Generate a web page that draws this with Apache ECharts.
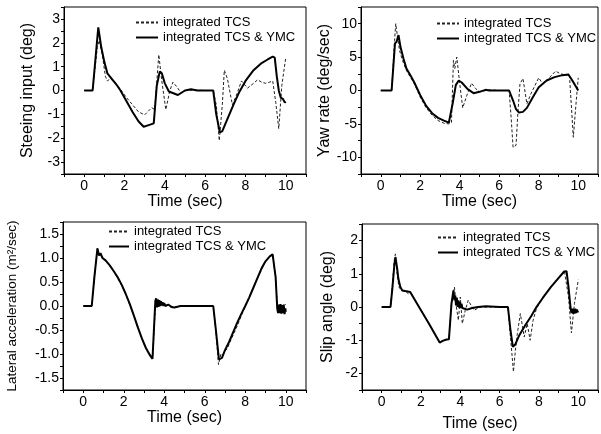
<!DOCTYPE html>
<html>
<head>
<meta charset="utf-8">
<script src="https://cdn.jsdelivr.net/npm/echarts@6/dist/echarts.min.js"></script>
<style>html,body{margin:0;padding:0;background:#fff}#c{width:601px;height:434px}</style>
</head>
<body>
<div id="c"></div>
<script>
// ---------- Data ----------
var seriesNames = ['integrated TCS', 'integrated TCS & YMC'];
var xTickLabels = ['0', '2', '4', '6', '8', '10'];

// Panel 1: Steering input (deg)
var steerYmcT = [0, 0.42, 0.7, 0.85, 1.0, 1.15, 1.4, 1.6, 1.8, 2.1, 2.4, 2.7, 2.95, 3.2, 3.45, 3.6, 3.75, 3.85, 4.0, 4.2, 4.65, 5.0, 5.3, 5.6, 6.0, 6.4, 6.55, 6.73, 6.85, 7.1, 7.4, 7.7, 8.0, 8.4, 8.8, 9.1, 9.35, 9.45, 9.55, 9.65, 9.75, 9.85, 9.95, 10.0];
var steerYmcV = [0, 0, 2.65, 1.8, 1.2, 0.72, 0.46, 0.25, 0.0, -0.45, -0.9, -1.3, -1.52, -1.45, -1.38, 0.2, 0.8, 0.72, 0.3, -0.04, -0.19, 0.0, 0.05, 0.0, 0, 0, -1.0, -1.76, -1.7, -1.2, -0.6, -0.05, 0.4, 0.85, 1.15, 1.3, 1.42, 1.38, 0.6, 0.0, -0.3, -0.35, -0.5, -0.47];
var steerTcsT = [0, 0.42, 0.65, 0.75, 0.9, 1.05, 1.15, 1.3, 1.5, 1.8, 2.1, 2.4, 2.7, 3.0, 3.2, 3.35, 3.5, 3.7, 3.85, 4.05, 4.25, 4.4, 4.6, 4.8, 5.0, 5.5, 6.0, 6.4, 6.55, 6.7, 6.85, 6.95, 7.1, 7.35, 7.55, 7.8, 8.1, 8.4, 8.6, 8.8, 9.0, 9.2, 9.35, 9.5, 9.65, 9.8, 10.0];
var steerTcsV = [0, 0, 1.8, 2.1, 1.5, 0.6, 0.4, 0.5, 0.35, 0.05, -0.3, -0.6, -0.9, -1.02, -0.85, -0.72, -0.8, 1.5, 0.4, -0.8, 0.0, 0.35, 0.15, -0.1, 0.0, 0.02, 0, 0, -0.6, -2.1, -0.6, 0.85, 0.5, -0.6, -0.2, 0.4, 0.1, 0.3, 0.45, 0.35, 0.3, 0.35, 0.4, -0.5, -1.6, 0.2, 1.4];

// Panel 2: Yaw rate (deg/sec)
var yawYmcT = [0, 0.55, 0.72, 0.8, 0.9, 1.0, 1.15, 1.3, 1.5, 1.7, 2.0, 2.3, 2.6, 2.9, 3.2, 3.45, 3.55, 3.65, 3.8, 3.95, 4.1, 4.4, 4.7, 5.0, 5.3, 5.5, 6.0, 6.5, 6.7, 6.85, 7.0, 7.2, 7.4, 7.7, 8.0, 8.4, 8.8, 9.2, 9.5, 9.7, 10.0];
var yawYmcV = [0, 0, 7.0, 7.3, 8.3, 6.5, 4.8, 3.3, 2.3, 1.2, -0.7, -2.3, -3.4, -4.1, -4.5, -4.8, -4.7, -1.8, 0.8, 1.5, 1.2, 0.2, -0.4, -0.2, 0.1, 0, 0, 0, -1.5, -2.8, -3.3, -3.2, -2.6, -1.0, 0.5, 1.5, 2.0, 2.3, 2.4, 1.5, 0.0];
var yawTcsT = [0, 0.55, 0.7, 0.76, 0.85, 0.95, 1.1, 1.3, 1.5, 1.7, 2.0, 2.3, 2.6, 2.9, 3.2, 3.45, 3.58, 3.68, 3.75, 3.85, 4.0, 4.15, 4.35, 4.6, 4.8, 5.0, 5.5, 6.0, 6.5, 6.6, 6.7, 6.85, 6.95, 7.05, 7.2, 7.4, 7.6, 8.0, 8.2, 8.5, 8.85, 9.1, 9.4, 9.55, 9.75, 9.9, 10.0];
var yawTcsV = [0, 0, 7.5, 10.0, 8.0, 6.0, 4.5, 3.0, 2.0, 1.0, -1.0, -2.6, -3.7, -4.5, -4.9, -5.0, -4.8, 4.5, 3.3, 5.0, 1.0, -2.6, -0.8, 1.1, 0.3, -0.2, 0.1, 0, 0, -4.0, -8.5, -8.2, -3.0, 1.0, 1.8, -2.0, -0.5, 1.9, 1.0, 1.8, 2.9, 2.5, 2.3, 2.5, -7.0, -1.5, 1.9];

// Panel 3: Lateral acceleration (m²/sec)
var latYmcT = [0, 0.42, 0.55, 0.7, 0.78, 0.85, 0.95, 1.1, 1.3, 1.5, 1.7, 1.9, 2.1, 2.3, 2.5, 2.7, 2.9, 3.1, 3.3, 3.42, 3.5, 3.56, 3.6, 3.64, 3.68, 3.72, 3.76, 3.8, 3.84, 3.88, 3.92, 3.96, 4.0, 4.05, 4.1, 4.2, 4.35, 4.5, 4.8, 5.5, 6.0, 6.42, 6.55, 6.7, 6.85, 7.0, 7.2, 7.4, 7.6, 7.8, 8.0, 8.2, 8.4, 8.6, 8.8, 9.0, 9.2, 9.35, 9.42, 9.5, 9.58, 9.62, 9.66, 9.7, 9.74, 9.78, 9.82, 9.86, 9.9, 9.94, 9.98, 10.0];
var latYmcV = [0, 0, 0.6, 1.2, 1.05, 1.1, 1.0, 0.95, 0.85, 0.73, 0.6, 0.44, 0.25, 0.04, -0.2, -0.45, -0.68, -0.88, -1.03, -1.1, -1.08, 0.11, 0.16, -0.03, 0.14, -0.02, 0.12, 0.0, 0.1, 0.01, 0.08, 0.0, 0.06, 0.0, 0.04, 0.03, -0.02, -0.03, 0.0, 0.0, 0, 0, -0.5, -1.11, -1.08, -0.92, -0.75, -0.55, -0.35, -0.17, 0.0, 0.18, 0.38, 0.58, 0.78, 0.93, 1.03, 1.08, 1.06, 0.6, -0.05, -0.15, 0.03, -0.15, 0.04, -0.16, 0.02, -0.15, 0.03, -0.17, -0.05, -0.12];
var latTcsT = [0, 0.42, 0.55, 0.7, 0.8, 0.9, 1.1, 1.5, 2.0, 2.5, 3.0, 3.42, 3.5, 3.58, 3.7, 4.0, 4.5, 5.0, 6.0, 6.42, 6.55, 6.68, 6.8, 6.9, 7.0, 7.1, 7.3, 7.6, 8.0, 8.5, 9.0, 9.35, 9.5, 9.6, 9.8, 10.0];
var latTcsV = [0, 0, 0.6, 1.2, 1.05, 1.05, 0.95, 0.73, 0.35, -0.2, -0.8, -1.1, -1.08, 0.1, 0.05, 0.03, -0.02, 0, 0, 0, -0.55, -1.22, -1.0, -1.02, -0.93, -0.9, -0.7, -0.42, 0.0, 0.48, 0.93, 1.08, 0.6, -0.1, -0.05, 0.04];

// Panel 4: Slip angle (deg)
var slipYmcT = [0, 0.45, 0.55, 0.65, 0.7, 0.78, 0.85, 0.95, 1.05, 1.2, 1.45, 1.9, 2.4, 2.95, 3.1, 3.3, 3.42, 3.55, 3.65, 3.7, 3.74, 3.78, 3.82, 3.86, 3.9, 3.94, 3.98, 4.02, 4.06, 4.1, 4.2, 4.35, 4.6, 4.9, 5.3, 6.0, 6.42, 6.55, 6.67, 6.8, 7.0, 7.3, 7.6, 7.87, 8.2, 8.6, 9.0, 9.28, 9.4, 9.5, 9.6, 9.65, 9.69, 9.73, 9.77, 9.81, 9.85, 9.89, 9.93, 9.97, 10.0];
var slipYmcV = [0, 0, 0.6, 1.3, 1.5, 1.2, 0.85, 0.6, 0.5, 0.48, 0.45, 0.0, -0.5, -1.07, -1.02, -0.98, -0.97, 0.1, 0.5, 0.2, 0.35, 0.05, 0.28, 0.0, 0.2, -0.02, 0.15, -0.03, 0.1, -0.03, -0.05, -0.08, -0.03, 0.0, 0.02, 0, 0, -0.7, -1.2, -1.12, -0.85, -0.55, -0.28, 0.0, 0.28, 0.6, 0.88, 1.07, 1.08, 0.6, 0.0, -0.18, -0.05, -0.2, -0.06, -0.2, -0.05, -0.18, -0.08, -0.15, -0.12];
var slipTcsT = [0, 0.45, 0.55, 0.65, 0.7, 0.78, 0.88, 1.0, 1.1, 1.2, 1.35, 1.5, 1.9, 2.4, 2.95, 3.1, 3.3, 3.42, 3.55, 3.7, 3.8, 3.9, 4.0, 4.1, 4.25, 4.4, 4.55, 4.7, 5.0, 6.0, 6.42, 6.55, 6.7, 6.8, 6.9, 7.05, 7.25, 7.4, 7.55, 7.7, 7.87, 8.2, 8.6, 9.0, 9.3, 9.4, 9.5, 9.65, 9.8, 10.0];
var slipTcsV = [0, 0, 0.7, 1.45, 1.6, 1.0, 0.6, 0.5, 0.45, 0.48, 0.4, 0.42, 0.0, -0.5, -1.07, -1.02, -0.98, -0.97, 0.1, 0.6, 0.0, -0.4, 0.3, -0.5, -0.1, 0.2, 0.05, -0.1, 0, 0, 0, -0.9, -1.95, -1.3, -0.8, -0.2, -0.9, -0.5, -1.0, -0.4, -0.05, 0.28, 0.6, 0.88, 1.06, 1.05, 0.3, -0.78, 0.1, 0.82];

// ---------- Helpers ----------
function zip(t, v) { return t.map(function (x, i) { return [x, v[i]]; }); }
function isMult(v, s) { var r = v / s; return Math.abs(r - Math.round(r)) < 1e-6; }
var FONT = 'Liberation Sans, Arial, sans-serif';

var grids = [
  { left: 64, top: 7, width: 242, height: 167 },
  { left: 361, top: 7, width: 242, height: 167 },
  { left: 63, top: 222, width: 243, height: 168 },
  { left: 362, top: 224, width: 242, height: 166 }
];
grids.forEach(function (g) { g.show = true; g.borderColor = '#000'; g.borderWidth = 1; g.backgroundColor = 'transparent'; });

var axisLineStyle = { show: true, onZero: false, lineStyle: { color: '#000', width: 1 } };

function xAxis(i, gap) {
  return {
    type: 'value', gridIndex: i, min: -1, max: 11, interval: 1,
    name: 'Time (sec)', nameLocation: 'middle', nameGap: gap,
    nameTextStyle: { fontSize: 16, color: '#000', fontFamily: FONT },
    axisLine: axisLineStyle,
    axisTick: { show: true, inside: false, length: 3, lineStyle: { color: '#000' } },
    splitLine: { show: false },
    axisLabel: {
      fontSize: 14, color: '#000', fontFamily: FONT, margin: 5,
      formatter: function (v) { return (v >= 0 && v <= 10 && isMult(v, 2)) ? String(v) : ''; }
    }
  };
}
function yAxis(i, name, min, max, step, major, dec, gap, nameSize) {
  return {
    type: 'value', gridIndex: i, min: min, max: max, interval: step,
    name: name, nameLocation: 'middle', nameGap: gap, nameRotate: 90,
    nameTextStyle: { fontSize: nameSize, color: '#000', fontFamily: FONT },
    axisLine: axisLineStyle,
    axisTick: { show: true, inside: false, length: 3, lineStyle: { color: '#000' } },
    splitLine: { show: false },
    axisLabel: {
      fontSize: 14, color: '#000', fontFamily: FONT, margin: 4,
      formatter: function (v) {
        if (!isMult(v, major) || v <= min + 1e-9 || v >= max - 1e-9) return '';
        return dec ? v.toFixed(dec) : String(Math.round(v));
      }
    }
  };
}

function tcs(i, t, v) {
  return { name: seriesNames[0], type: 'line', xAxisIndex: i, yAxisIndex: i, data: zip(t, v),
    symbol: 'none', showSymbol: false, lineStyle: { color: '#222', width: 1, type: [3, 2] }, itemStyle: { color: '#222' }, z: 2 };
}
function ymc(i, t, v) {
  return { name: seriesNames[1], type: 'line', xAxisIndex: i, yAxisIndex: i, data: zip(t, v),
    symbol: 'none', showSymbol: false, lineStyle: { color: '#000', width: 2 }, itemStyle: { color: '#000' }, z: 3 };
}
function legend(left, top, w) {
  return { left: left, top: top, orient: 'vertical', itemWidth: w, itemHeight: 10, itemGap: 2, padding: 0,
    data: seriesNames, selectedMode: false,
    itemStyle: { color: 'rgba(0,0,0,0)', borderColor: 'rgba(0,0,0,0)', borderWidth: 0, opacity: 0 },
    textStyle: { fontSize: 13, color: '#000', fontFamily: FONT } };
}

var option = {
  animation: false,
  backgroundColor: '#fff',
  grid: grids,
  legend: [legend(135, 16, 22), legend(436, 17, 22), legend(108, 225, 20), legend(437, 231, 20)],
  xAxis: [xAxis(0, 18), xAxis(1, 15), xAxis(2, 19), xAxis(3, 26)],
  yAxis: [
    yAxis(0, 'Steeing input (deg)', -3.5, 3.5, 0.5, 1, 0, 28, 16),
    yAxis(1, 'Yaw rate (deg/sec)', -12.5, 12.5, 2.5, 5, 0, 26, 16),
    yAxis(2, 'Lateral acceleration (m\u00B2/sec)', -1.75, 1.75, 0.25, 0.5, 1, 44, 13.5),
    yAxis(3, 'Slip angle (deg)', -2.5, 2.5, 0.5, 1, 0, 26, 16)
  ],
  series: [
    tcs(0, steerTcsT, steerTcsV), ymc(0, steerYmcT, steerYmcV),
    tcs(1, yawTcsT, yawTcsV), ymc(1, yawYmcT, yawYmcV),
    tcs(2, latTcsT, latTcsV), ymc(2, latYmcT, latYmcV),
    tcs(3, slipTcsT, slipTcsV), ymc(3, slipYmcT, slipYmcV)
  ]
};

var chart = echarts.init(document.getElementById('c'), null, { renderer: 'canvas' });
chart.setOption(option);
</script>
</body>
</html>
